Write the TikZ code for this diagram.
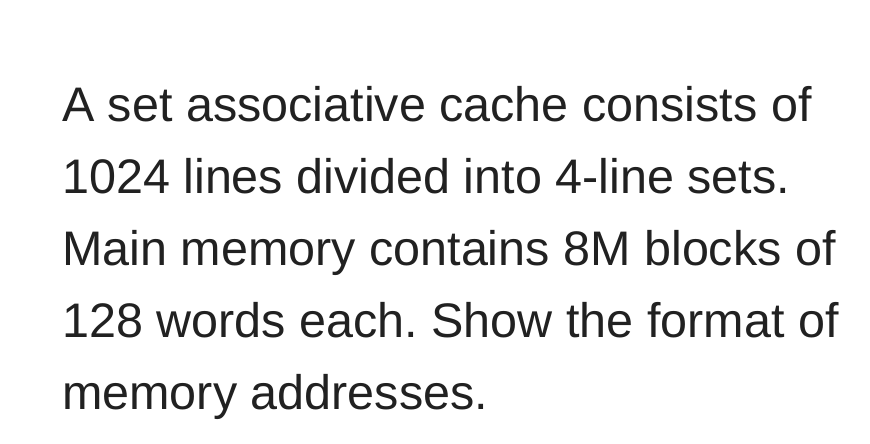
\documentclass[tikz,border=0pt]{standalone}
\usepackage{fontspec}
\setmainfont{Liberation Sans}
\frenchspacing
\begin{document}
\begin{tikzpicture}[x=1pt,y=1pt,
  txt/.style={anchor=base west,inner sep=0pt,text=black!87,font=\fontsize{48.5}{52}\selectfont}]
\useasboundingbox[fill=white] (0,0) rectangle (870,444);
\node[txt] (l1) at (62,444-122) {A set associative cache consists of};
\node[txt] (l2) at (62,444-194) {1024 lines divided into 4-line sets.};
\node[txt] (l3) at (62,444-266) {Main memory contains 8M blocks of};
\node[txt] (l4) at (62,444-338) {128 words each. Show the format of};
\node[txt] (l5) at (62,444-410) {memory addresses.};
\end{tikzpicture}
\end{document}
